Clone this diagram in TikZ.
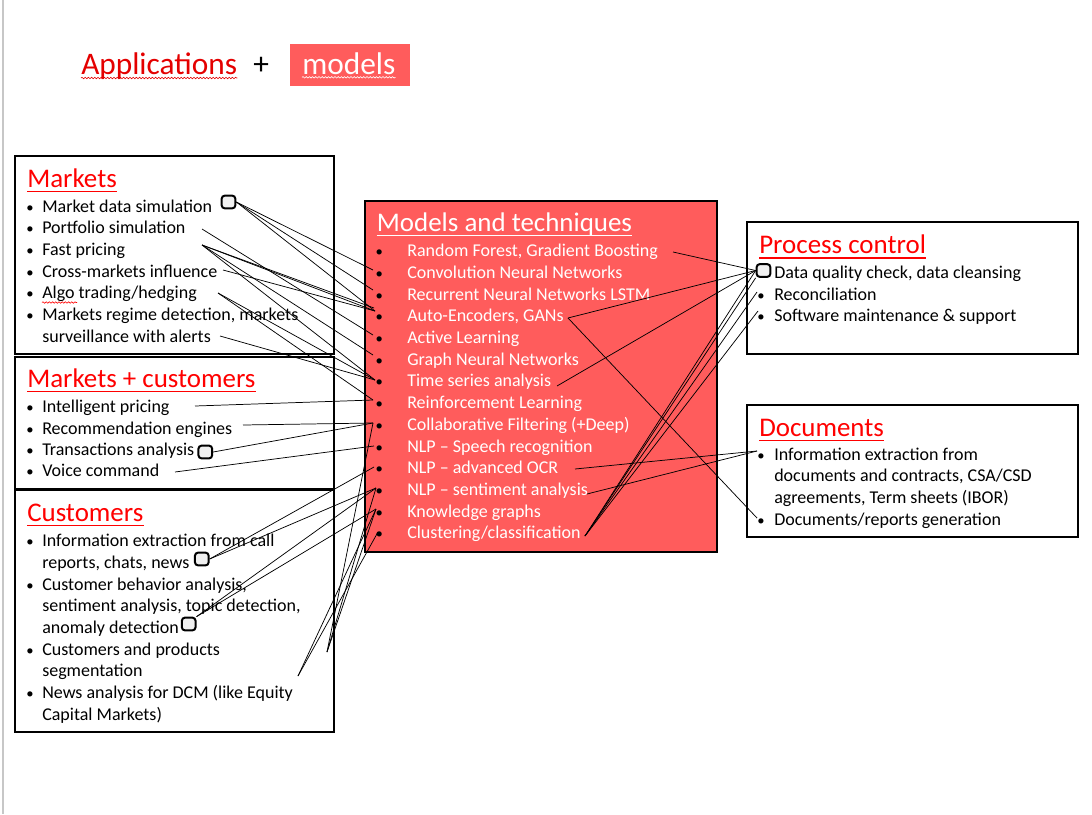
\documentclass[tikz,border=0pt]{standalone}
\usepackage{fontspec}
\setmainfont{Carlito}
\usetikzlibrary{decorations.pathmorphing}
\definecolor{modred}{RGB}{255,92,92}
\definecolor{headred}{RGB}{255,0,0}
\definecolor{titlered}{RGB}{228,0,0}
\begin{document}
\begin{tikzpicture}[x=0.75pt,y=-0.75pt,
 txt/.style={anchor=base west,inner sep=0pt,font=\fontsize{13.5}{16}\selectfont},
 wtxt/.style={txt,text=white},
 bul/.style={anchor=base,inner sep=0pt,font=\fontsize{11}{13}\selectfont},
 head/.style={anchor=base west,inner sep=0pt,font=\fontsize{20.2}{24}\selectfont,text=headred},
 ttl/.style={anchor=base west,inner sep=0pt,font=\fontsize{23.5}{28}\selectfont},
 uline/.style={line width=1.1pt},
 frame/.style={draw=black,line width=0.8pt},
 conn/.style={line width=0.55pt,draw=black},
 handle/.style={draw=black,line width=1.5pt,rounded corners=2.4pt,fill=black!6,minimum width=10.3pt,minimum height=9.6pt,inner sep=0pt},
 squig/.style={decorate,decoration={snake,segment length=2.4pt,amplitude=0.55pt},line width=0.45pt}
]
\useasboundingbox (0,0) rectangle (1092,814);
\draw[black!22,line width=1pt] (3,0) -- (3,814);

% ---------- title ----------
\node[ttl,text=titlered] (tapp) at (81,74) {Applications};
\node[ttl] (tplus) at (253,74) {+};
\fill[modred] (290,44) rectangle (410,86);
\node[ttl,text=white] (tmod) at (302,74) {models};
\draw[squig,titlered] ([yshift=-3pt]tapp.base west) -- ([yshift=-3pt]tapp.base east);
\draw[squig,white] ([yshift=-2.5pt]tmod.base west) -- ([yshift=-2.5pt]tmod.base east);

% ---------- Markets ----------
\draw[frame] (15,156) rectangle (334,354);
\node[head] (hm) at (27,187.3) {Markets};
\draw[uline,headred] ([yshift=-3.2pt]hm.base west) -- ([yshift=-3.2pt]hm.base east);
\foreach \y/\n in {212/1,233.7/2,255.3/3,277/4,298.7/5,320.3/6} \node[bul] (bm\n) at (30,\y) {•};
\node[txt] (tm1) at (42,212) {Market data simulation};
\node[txt] (tm2) at (42,233.7) {Portfolio simulation};
\node[txt] (tm3) at (42,255.3) {Fast pricing};
\node[txt] (tm4) at (42,277) {Cross-markets influence};
\node[txt] (tm5) at (42,298.7) {Algo trading/hedging};
\node[txt] (tm6) at (42,320.3) {Markets regime detection, markets};
\node[txt] (tm6b) at (42,342) {surveillance with alerts};
\draw[squig,red] (42,302.5) -- (77,302.5);

% ---------- Markets + customers ----------
\draw[frame] (15,357) rectangle (334,489);
\node[head] (hmc) at (27,387.3) {Markets + customers};
\draw[uline,headred] ([yshift=-3.2pt]hmc.base west) -- ([yshift=-3.2pt]hmc.base east);
\foreach \y/\n in {412.7/1,434/2,455.3/3,476.7/4} \node[bul] (bc\n) at (30,\y) {•};
\node[txt] (tc1) at (42,412.7) {Intelligent pricing};
\node[txt] (tc2) at (42,434) {Recommendation engines};
\node[txt] (tc3) at (42,455.3) {Transactions analysis};
\node[txt] (tc4) at (42,476.7) {Voice command};

% ---------- Customers ----------
\draw[frame] (15,490) rectangle (334,732);
\node[head] (hcu) at (27,521.3) {Customers};
\draw[uline,headred] ([yshift=-3.2pt]hcu.base west) -- ([yshift=-3.2pt]hcu.base east);
\foreach \y/\n in {546.7/1,590/2,655/3,698.3/4} \node[bul] (bu\n) at (30,\y) {•};
\node[txt] (tu1) at (42,546.7) {Information extraction from call};
\node[txt] (tu1b) at (42,568.3) {reports, chats, news};
\node[txt] (tu2) at (42,590) {Customer behavior analysis,};
\node[txt] (tu2b) at (42,611.6) {sentiment analysis, topic detection,};
\node[txt] (tu2c) at (42,633.3) {anomaly detection};
\node[txt] (tu3) at (42,655) {Customers and products};
\node[txt] (tu3b) at (42,676.6) {segmentation};
\node[txt] (tu4) at (42,698.3) {News analysis for DCM (like Equity};
\node[txt] (tu4b) at (42,720) {Capital Markets)};

% ---------- Models and techniques ----------
\fill[modred] (365,201) rectangle (717,552);
\draw[frame] (365,201) rectangle (717,552);
\node[head,text=white] (hmt) at (376.7,231) {Models and techniques};
\draw[uline,white] ([yshift=-3.2pt]hmt.base west) -- ([yshift=-3.2pt]hmt.base east);
\foreach \t [count=\i] in {Random Forest{,} Gradient Boosting,Convolution Neural Networks,Recurrent Neural Networks LSTM,Auto-Encoders{,} GANs,Active Learning,Graph Neural Networks,Time series analysis,Reinforcement Learning,Collaborative Filtering (+Deep),NLP – Speech recognition,NLP – advanced OCR,NLP – sentiment analysis,Knowledge graphs,Clustering/classification}{
  \node[bul] (bt\i) at (379.3,{256.7+21.7*(\i-1)}) {•};
  \node[wtxt] (tt\i) at (407,{256.7+21.7*(\i-1)}) {\t};
}

% ---------- Process control ----------
\draw[frame] (747,222) rectangle (1078,354);
\node[head] (hpc) at (759,253.5) {Process control};
\draw[uline,headred] ([yshift=-3.2pt]hpc.base west) -- ([yshift=-3.2pt]hpc.base east);
\node[txt] (tp1) at (774,278.3) {Data quality check, data cleansing};
\node[bul] (bp2) at (761,300) {•};
\node[txt] (tp2) at (774,300) {Reconciliation};
\node[bul] (bp3) at (761,321.7) {•};
\node[txt] (tp3) at (774,321.7) {Software maintenance \& support};

% ---------- Documents ----------
\draw[frame] (747,405) rectangle (1078,537);
\node[head] (hd) at (759,436) {Documents};
\draw[uline,headred] ([yshift=-3.2pt]hd.base west) -- ([yshift=-3.2pt]hd.base east);
\node[bul] (bd1) at (761,460) {•};
\node[txt] (td1) at (774,460) {Information extraction from};
\node[txt] (td1b) at (774,481.7) {documents and contracts, CSA/CSD};
\node[txt] (td1c) at (774,503.3) {agreements, Term sheets (IBOR)};
\node[bul] (bd2) at (761,525) {•};
\node[txt] (td2) at (774,525) {Documents/reports generation};

% ---------- handles (positions) ----------
\coordinate (h1c) at (228.5,202);
\coordinate (htc) at (205.3,452);
\coordinate (hnc) at (201.8,559);
\coordinate (hac) at (188.7,624);
\coordinate (hpc2) at (763.5,270.5);
\node[handle,draw=none,fill=none] (h1) at (h1c) {};
\node[handle,draw=none,fill=none] (ht) at (htc) {};
\node[handle,draw=none,fill=none] (hn) at (hnc) {};
\node[handle,draw=none,fill=none] (ha) at (hac) {};
\node[handle,draw=none,fill=none] (hp) at (hpc2) {};

% ---------- connector end points ----------
\coordinate (a2) at (202,229);
\coordinate (a3) at (202,245);
\coordinate (a4) at (223,270);
\coordinate (a5) at (218,293);
\coordinate (a6) at (220,336);
\coordinate (a7) at (195,406);
\coordinate (a8) at (243,425);
\coordinate (a9) at (175,472);
\coordinate (a10) at (327,652);
\coordinate (a11) at (298,676);
\coordinate (L2) at (373,270);
\coordinate (L3) at (373,290);
\coordinate (L4) at (375,311);
\coordinate (L4b) at (374,308);
\coordinate (L5) at (373,335);
\coordinate (L6) at (373,355);
\coordinate (L7) at (375,380);
\coordinate (L8) at (373,400);
\coordinate (L9) at (373,423);
\coordinate (L10) at (374,446);
\coordinate (L11) at (374,467);
\coordinate (L12) at (376,488);
\coordinate (L13) at (376,509);
\coordinate (L14) at (378,532);
\coordinate (R1) at (673,252);
\coordinate (R4) at (568,318);
\coordinate (R7) at (557,386);
\coordinate (R11) at (575,469);
\coordinate (R12) at (587,494);
\coordinate (R14) at (585,536);
\coordinate (P2) at (757,292);
\coordinate (P3) at (758,311);
\coordinate (D1) at (757,451);
\coordinate (D4) at (757,518);

% ---------- connectors left ----------
\draw[conn] (h1.east) -- (L2);
\draw[conn] (h1.east) -- (L3);
\draw[conn] (h1.east) -- (L4);
\draw[conn] (a2) -- (L5);
\draw[conn] (a3) -- (L4);
\draw[conn] (a3) -- (L4b);
\draw[conn] (a3) -- (L6);
\draw[conn] (a3) -- (L7);
\draw[conn] (a4) -- (L4);
\draw[conn] (a5) -- (L7);
\draw[conn] (a5) -- (L8);
\draw[conn] (a6) -- (L7);
\draw[conn] (a7) -- (L8);
\draw[conn] (a8) -- (L9);
\draw[conn] (ht.east) -- (L9);
\draw[conn] (a9) -- (L10);
\draw[conn] (hn.east) -- (L11);
\draw[conn] (hn.east) -- (L12);
\draw[conn] (ha.north east) -- (L12);
\draw[conn] (ha.north east) -- (L13);
\draw[conn] (a10) -- (L9);
\draw[conn] (a10) -- (L12);
\draw[conn] (a10) -- (L13);
\draw[conn] (a11) -- (L13);
\draw[conn] (a11) -- (L14);

% ---------- connectors right ----------
\draw[conn] (R1) -- (hp.west);
\draw[conn] (R4) -- (hp.west);
\draw[conn] (R4) -- (D4);
\draw[conn] (R7) -- (hp.west);
\draw[conn] (R11) -- (D1);
\draw[conn] (R12) -- (D1);
\draw[conn] (R14) -- (hp.west);
\draw[conn] (R14) -- (hp.south west);
\draw[conn] (R14) -- (P2);
\draw[conn] (R14) -- (P3);

% ---------- handles drawn on top ----------
\node[handle] (h1v) at (h1c) {};
\node[handle] (htv) at (htc) {};
\node[handle] (hnv) at (hnc) {};
\node[handle] (hav) at (hac) {};
\node[handle] (hpv) at (hpc2) {};
\end{tikzpicture}
\end{document}
